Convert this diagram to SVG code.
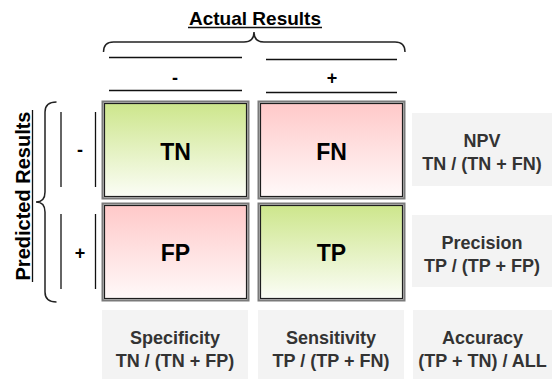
<svg xmlns="http://www.w3.org/2000/svg" width="552" height="379" viewBox="0 0 552 379">
<defs>
<linearGradient id="gGreen" x1="0" y1="0" x2="0" y2="1">
<stop offset="0" stop-color="#cde68c"/>
<stop offset="1" stop-color="#fbfdf6"/>
</linearGradient>
<linearGradient id="gRed" x1="0" y1="0" x2="0" y2="1">
<stop offset="0" stop-color="#ffc9c9"/>
<stop offset="1" stop-color="#fff9f9"/>
</linearGradient>
</defs>
<style>
.frame{fill:#e4e4e4;stroke:#7a7a7a;stroke-width:2}
.inner{stroke:#1e1e1e;stroke-width:1.2}
.cell{font-family:"Liberation Sans",Arial,sans-serif;font-weight:bold;font-size:23px;fill:#000;text-anchor:middle}
.metric{fill:#f3f3f3}
.mt{font-family:"Liberation Sans",Arial,sans-serif;font-weight:bold;font-size:18px;fill:#333;text-anchor:middle}
.title{font-family:"Liberation Sans",Arial,sans-serif;font-weight:bold;fill:#000;text-anchor:middle}
.sign{font-family:"Liberation Sans",Arial,sans-serif;font-weight:bold;font-size:18px;fill:#000;text-anchor:middle}
.ln{stroke:#111;stroke-width:1.3;fill:none}
.brace{stroke:#222;stroke-width:1.5;fill:none}
</style>
<g id="axes">
<text class="title" x="255" y="25" font-size="19">Actual Results</text>
<line class="ln" x1="188" y1="27.5" x2="322" y2="27.5" stroke-width="1.6"/>
<path class="brace" d="M103.5,52 Q103.5,42 113.5,42 L244,42 Q254,42 254,32 Q254,42 264,42 L395,42 Q405,42 405,52"/>
<text class="title" x="30" y="196" font-size="20" transform="rotate(-90 30 196)">Predicted Results</text>
<line class="ln" x1="32.5" y1="110" x2="32.5" y2="282" stroke-width="1.6"/>
<path class="brace" d="M56.5,102 Q45,102 45,112 L45,192 Q45,202 36,202 Q45,202 45,212 L45,292 Q45,302 56.5,302"/>
</g>
<g id="col-headers">
<line class="ln" x1="109" y1="57.5" x2="242" y2="57.5"/>
<line class="ln" x1="109" y1="90.5" x2="242" y2="90.5"/>
<text class="sign" x="175" y="84">-</text>
<line class="ln" x1="266" y1="59.5" x2="397" y2="59.5"/>
<line class="ln" x1="266" y1="92.5" x2="397" y2="92.5"/>
<text class="sign" x="332" y="84">+</text>
</g>
<g id="row-headers">
<line class="ln" x1="61" y1="112" x2="61" y2="187"/>
<line class="ln" x1="95.5" y1="112" x2="95.5" y2="187"/>
<text class="sign" x="80" y="156">-</text>
<line class="ln" x1="61" y1="214" x2="61" y2="289"/>
<line class="ln" x1="95.5" y1="214" x2="95.5" y2="289"/>
<text class="sign" x="80" y="259">+</text>
</g>
<g id="TN">
<rect class="frame" x="102.5" y="101.5" width="146" height="97"/>
<rect class="inner" x="104.5" y="103.5" width="142" height="93" fill="url(#gGreen)"/>
<text class="cell" x="175.5" y="159.5">TN</text>
</g>
<g id="FN">
<rect class="frame" x="258.5" y="101.5" width="146" height="97"/>
<rect class="inner" x="260.5" y="103.5" width="142" height="93" fill="url(#gRed)"/>
<text class="cell" x="331.5" y="159.5">FN</text>
</g>
<g id="FP">
<rect class="frame" x="102.5" y="203.5" width="146" height="97"/>
<rect class="inner" x="104.5" y="205.5" width="142" height="93" fill="url(#gRed)"/>
<text class="cell" x="175.5" y="261">FP</text>
</g>
<g id="TP">
<rect class="frame" x="258.5" y="203.5" width="146" height="97"/>
<rect class="inner" x="260.5" y="205.5" width="142" height="93" fill="url(#gGreen)"/>
<text class="cell" x="331.5" y="261">TP</text>
</g>
<g id="NPV">
<rect class="metric" x="412" y="113" width="140" height="73"/>
<text class="mt" x="482" y="147">NPV</text>
<text class="mt" x="482" y="170">TN / (TN + FN)</text>
</g>
<g id="Precision">
<rect class="metric" x="412" y="215" width="140" height="72"/>
<text class="mt" x="482" y="249">Precision</text>
<text class="mt" x="482" y="272">TP / (TP + FP)</text>
</g>
<g id="Specificity">
<rect class="metric" x="102" y="310" width="146" height="69"/>
<text class="mt" x="175" y="344">Specificity</text>
<text class="mt" x="175" y="367">TN / (TN + FP)</text>
</g>
<g id="Sensitivity">
<rect class="metric" x="258" y="310" width="146" height="69"/>
<text class="mt" x="331" y="344">Sensitivity</text>
<text class="mt" x="331" y="367">TP / (TP + FN)</text>
</g>
<g id="Accuracy">
<rect class="metric" x="413" y="310" width="139" height="69"/>
<text class="mt" x="482.5" y="344">Accuracy</text>
<text class="mt" x="482.5" y="367">(TP + TN) / ALL</text>
</g>
<g id="connectors"></g>
</svg>
